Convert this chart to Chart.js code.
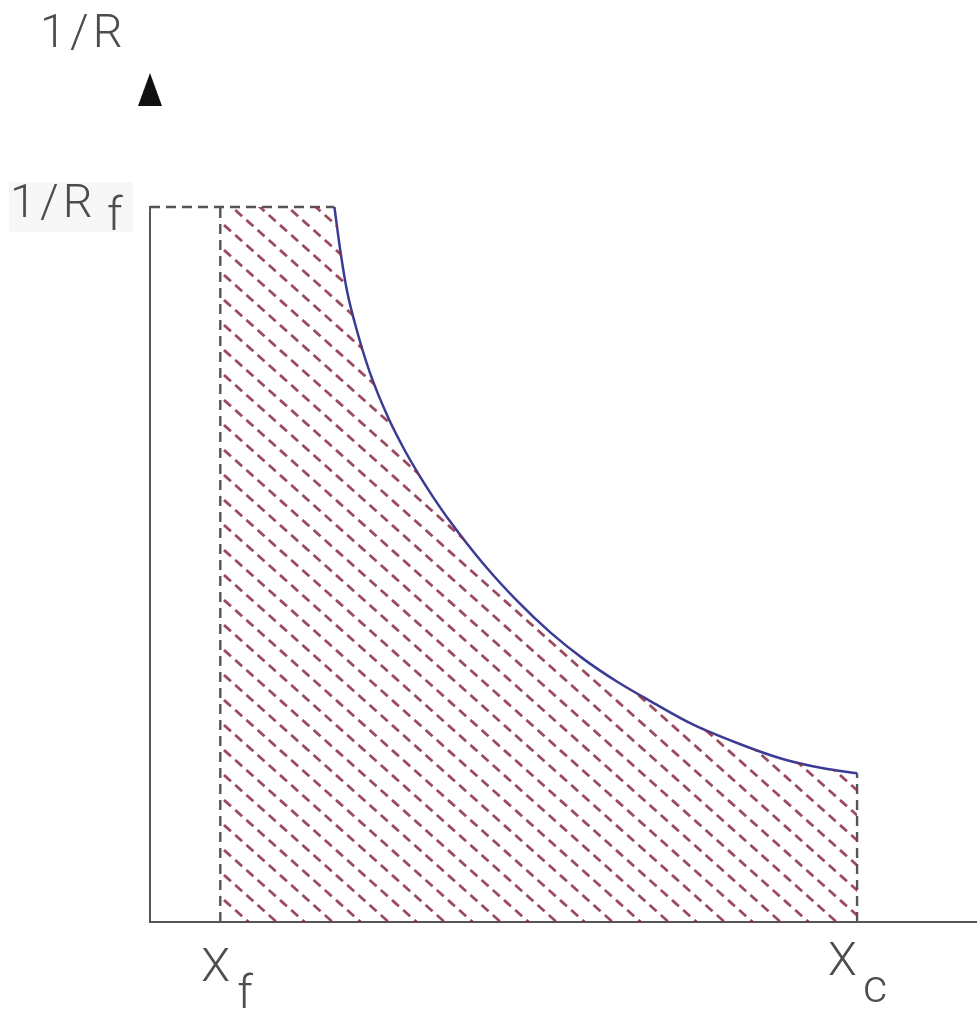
<!DOCTYPE html>
<html>
<head>
<meta charset="utf-8">
<title>1/R vs X</title>
<script src="https://cdn.jsdelivr.net/npm/chart.js@4.4.1/dist/chart.umd.min.js"></script>
<style>
  body { margin: 0; background: #fff; }
  canvas { display: block; }
</style>
</head>
<body>
<canvas id="levenspiel" width="977" height="1011"></canvas>
<script>
// conversion along the curve and the matching 1/R (scaled so 1/R_f = 1)
const convX = [0.223, 0.230, 0.238, 0.250, 0.266, 0.287, 0.306, 0.326, 0.342, 0.363, 0.403,
               0.444, 0.484, 0.524, 0.565, 0.605, 0.657, 0.713, 0.765, 0.814, 0.855];
const invRate = [1.0, 0.940, 0.884, 0.828, 0.768, 0.708, 0.664, 0.624, 0.595, 0.560, 0.501,
                 0.449, 0.405, 0.368, 0.336, 0.309, 0.276, 0.249, 0.228, 0.215, 0.208];
const xFeed = 0.085;
const xExit = 0.855;
const invRateFeed = 1.0;
const xTickLabels = [['X', 'f'], ['X', 'c']];
const yTickLabel = ['1/R', 'f'];
const yAxisTitle = '1/R';

const axisColor = '#555';
const textColor = '#4d4d4d';

// diagonal dashed hatching, tile is two line-spacings wide so the dash phase repeats
function hatchPattern(ctx) {
  const h = 28, v = 25;
  const c = document.createElement('canvas');
  c.width = 2 * h;
  c.height = v;
  const g = c.getContext('2d');
  g.strokeStyle = 'rgba(138,44,66,0.85)';
  g.lineWidth = 2.8;
  const period = 2 * Math.hypot(h, v) / 5;
  g.setLineDash([period * 0.62, period * 0.38]);
  for (let k = -6; k <= 6; k++) {
    g.beginPath();
    g.moveTo(-4 * h, -4 * v + k * v);
    g.lineTo(6 * h, 6 * v + k * v);
    g.stroke();
  }
  return ctx.createPattern(c, 'repeat');
}

const curvePts = convX.map((x, i) => ({ x: x, y: invRate[i] }));
const areaPts = [{ x: xFeed, y: invRateFeed }].concat(curvePts);
const lastRate = invRate[invRate.length - 1];

const canvas = document.getElementById('levenspiel');
const ctx = canvas.getContext('2d');

function dashed(data) {
  return {
    data: data,
    showLine: true,
    borderColor: axisColor,
    borderWidth: 2.4,
    borderDash: [10, 6],
    pointRadius: 0,
    fill: false,
    clip: false
  };
}

const labelsPlugin = {
  id: 'axisLabels',
  afterDraw(chart) {
    const c = chart.ctx;
    const sx = chart.scales.x, sy = chart.scales.y;
    const x0 = sx.getPixelForValue(0);
    const yTop = sy.getPixelForValue(invRateFeed);
    c.save();
    c.fillStyle = textColor;
    c.font = '300 47px Roboto';
    c.letterSpacing = '4px';
    c.textBaseline = 'alphabetic';

    // axis title and arrow head
    c.fillText(yAxisTitle, x0 - 110, 47);
    c.fillStyle = '#111';
    c.beginPath();
    c.moveTo(x0, 73);
    c.lineTo(x0 + 12, 106);
    c.lineTo(x0 - 12, 106);
    c.closePath();
    c.fill();

    // 1/R_f at the top of the axis
    c.fillStyle = 'rgba(244,244,244,0.7)';
    c.fillRect(9, yTop - 25, 124, 50);
    c.fillStyle = textColor;
    c.fillText(yTickLabel[0], x0 - 140, yTop + 10);
    c.fillText(yTickLabel[1], x0 - 43, yTop + 23);

    // X_f and X_c under the axis
    const base = sy.getPixelForValue(0);
    const pf = sx.getPixelForValue(xFeed);
    c.fillText(xTickLabels[0][0], pf - 19, base + 59);
    c.fillText(xTickLabels[0][1], pf + 17, base + 86);
    const pc = sx.getPixelForValue(xExit);
    c.fillText(xTickLabels[1][0], pc - 29, base + 53);
    c.fillText(xTickLabels[1][1], pc + 6, base + 80);
    c.restore();
  }
};

new Chart(ctx, {
  type: 'scatter',
  data: {
    datasets: [
      {
        data: areaPts,
        showLine: true,
        borderWidth: 0,
        borderColor: 'rgba(0,0,0,0)',
        backgroundColor: hatchPattern(ctx),
        fill: 'origin',
        pointRadius: 0,
        cubicInterpolationMode: 'monotone'
      },
      {
        data: curvePts,
        showLine: true,
        borderColor: '#3b3b96',
        borderWidth: 2.5,
        pointRadius: 0,
        fill: false,
        cubicInterpolationMode: 'monotone'
      },
      dashed([{ x: 0, y: invRateFeed }, { x: convX[0], y: invRateFeed }]),
      dashed([{ x: xFeed, y: 0 }, { x: xFeed, y: invRateFeed }]),
      dashed([{ x: xExit, y: 0 }, { x: xExit, y: lastRate }])
    ]
  },
  options: {
    responsive: false,
    animation: false,
    events: [],
    layout: { padding: { left: 150, top: 207, right: 0, bottom: 89 } },
    plugins: { legend: { display: false }, tooltip: { enabled: false } },
    scales: {
      x: {
        type: 'linear', min: 0, max: 1,
        ticks: { display: false },
        grid: { display: false, drawTicks: false },
        border: { display: true, color: axisColor, width: 2 }
      },
      y: {
        type: 'linear', min: 0, max: 1,
        ticks: { display: false },
        grid: { display: false, drawTicks: false },
        border: { display: true, color: axisColor, width: 2 }
      }
    }
  },
  plugins: [labelsPlugin]
});
</script>
</body>
</html>
